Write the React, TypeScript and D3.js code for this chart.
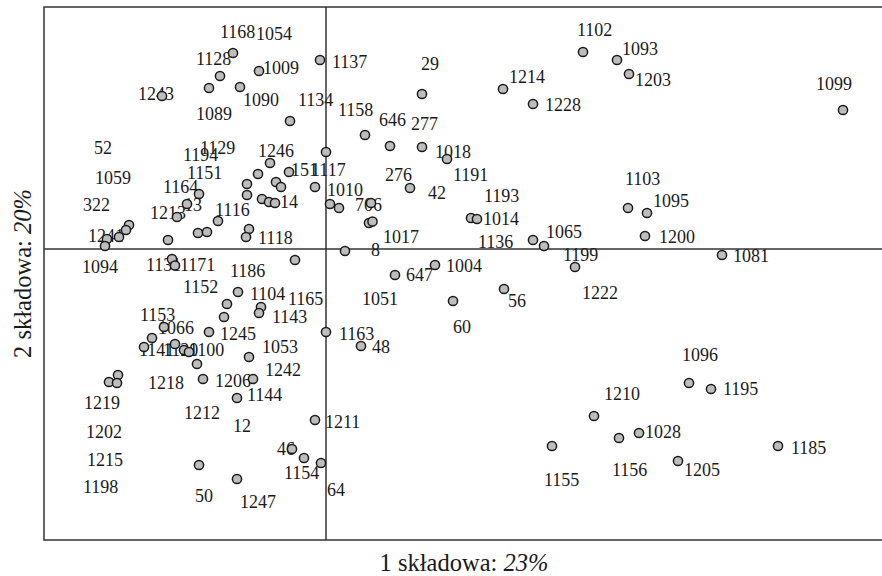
import React from "react";
import * as d3 from "d3";

// Point scores (component 1, component 2)
const pc1 = [
  -0.93, -1.06, -1.17, -0.86, -0.67, -1.64, -0.06, -0.36, 0.0, 0.39, 0.64, 0.96, 0.96, 1.21,
  -0.56, -0.68, -0.37, -0.79, -0.5, -0.45, -0.11, 0.84, 2.57, 2.91, 3.03, 1.77, 2.07, 5.17,
  3.02, 3.21, 3.19, 3.96, 1.45, 1.51, 2.07, 2.18, 2.49, 1.78, 1.27, 1.09, 0.69, 0.19, 0.45,
  0.43, 0.465, 0.04, 0.13, -0.64, -0.57, -0.51, -0.79, -0.77, -0.8, -1.27, -1.39, -1.49, -1.28,
  -1.19, -1.08, -1.97, -2.0, -2.07, -2.19, -2.21, -1.58, -1.54, -1.51, -0.31, -0.88, -0.99,
  -1.02, -0.65, -0.67, -1.17, -1.62, -1.74, -1.82, -1.51, -1.42, -1.37, -1.29, -0.77, 0.0,
  0.35, -1.23, -2.08, -2.17, -2.09, -0.89, -0.73, -0.11, -0.34, -0.22, -0.05, -1.27, -0.89,
  2.68, 2.93, 3.13, 2.26, 3.63, 3.85, 4.52, 3.52,
];
const pc2 = [
  1.96, 1.73, 1.61, 1.62, 1.78, 1.53, 1.89, 1.28, 0.97, 1.14, 1.03, 1.55, 1.02, 0.9,
  0.86, 0.75, 0.77, 0.65, 0.67, 0.62, 0.62, 0.61, 1.97, 1.89, 1.75, 1.6, 1.45, 1.39,
  0.41, 0.36, 0.13, -0.06, 0.31, 0.3, 0.09, 0.03, -0.18, -0.4, -0.52, -0.16, -0.26, -0.02, 0.46,
  0.26, 0.275, 0.45, 0.41, 0.5, 0.47, 0.46, 0.54, 0.2, 0.12, 0.55, 0.45, 0.32, 0.16,
  0.17, 0.28, 0.24, 0.19, 0.12, 0.1, 0.03, 0.09, -0.1, -0.165, -0.11, -0.43, -0.55,
  -0.68, -0.58, -0.64, -0.83, -0.78, -0.89, -0.98, -0.95, -1.01, -1.03, -1.15, -1.08, -0.83,
  -0.97, -1.3, -1.26, -1.33, -1.34, -1.49, -1.3, -1.71, -2.0, -2.09, -2.14, -2.16, -2.3,
  -1.67, -1.89, -1.84, -1.97, -1.34, -1.4, -1.97, -2.12,
];

// Labels (placed independently in the original figure)
const labelNames = [
  "1168", "1054", "1137", "1009", "1128", "1243", "1089", "1090", "1134", "1158", "646", "277",
  "29", "1018", "1191", "1214", "1228", "1102", "1093", "1203", "1099", "1103", "1095", "1200",
  "1081", "1065", "1136", "1193", "1014", "1199", "1222", "56", "60", "1004", "647", "1051",
  "1017", "8", "706", "1010", "42", "276", "151", "1117", "1246", "14", "1116", "1118", "1213",
  "13", "1164", "1151", "1194", "1129", "52", "1059", "322", "1241", "1094", "1131", "1171",
  "1186", "1152", "1104", "1165", "1143", "1153", "1066", "1245", "1141", "1120", "1100",
  "1053", "1163", "48", "1242", "1218", "1206", "1144", "1219", "1212", "12", "1202", "1211",
  "46", "1154", "64", "1247", "50", "1215", "1198", "1155", "1156", "1210", "1028", "1205",
  "1185", "1195", "1096",
];
const labelX = [
  -1.06, -0.7, 0.06, -0.63, -1.3, -1.88, -1.3, -0.83, -0.28, 0.12, 0.53, 0.85,
  0.95, 1.09, 1.27, 1.83, 2.19, 2.51, 2.96, 3.09, 4.9, 2.99, 3.27, 3.33,
  4.07, 2.2, 1.52, 1.58, 1.57, 2.37, 2.56, 1.82, 1.27, 1.2, 0.8, 0.36,
  0.57, 0.45, 0.29, 0.01, 1.02, 0.59, -0.35, -0.15, -0.68, -0.46, -1.11, -0.68, -1.76,
  -1.42, -1.63, -1.39, -1.43, -1.26, -2.32, -2.31, -2.43, -2.38, -2.44, -1.8, -1.46,
  -0.96, -1.43, -0.76, -0.38, -0.54, -1.86, -1.68, -1.06, -1.87, -1.63, -1.37,
  -0.64, 0.13, 0.46, -0.61, -1.78, -1.11, -0.79, -2.42, -1.42, -0.93, -2.4, -0.01,
  -0.49, -0.42, 0.01, -0.86, -1.31, -2.39, -2.43, 2.18, 2.86, 2.78, 3.19, 3.58,
  4.65, 3.97, 3.56,
];
const labelY = [
  2.11, 2.09, 1.81, 1.75, 1.84, 1.49, 1.29, 1.43, 1.43, 1.33, 1.23, 1.19,
  1.79, 0.91, 0.68, 1.66, 1.38, 2.13, 1.94, 1.63, 1.59, 0.64, 0.42, 0.06,
  -0.13, 0.11, 0.01, 0.47, 0.24, -0.12, -0.5, -0.58, -0.84, -0.23, -0.32, -0.56,
  0.06, -0.07, 0.38, 0.53, 0.5, 0.68, 0.73, 0.73, 0.92, 0.41, 0.33, 0.05, 0.3,
  0.38, 0.56, 0.7, 0.88, 0.95, 0.95, 0.65, 0.38, 0.07, -0.24, -0.22, -0.22,
  -0.28, -0.44, -0.51, -0.56, -0.74, -0.72, -0.85, -0.91, -1.07, -1.07, -1.07,
  -1.04, -0.91, -1.04, -1.27, -1.4, -1.38, -1.52, -1.6, -1.7, -1.83, -1.89, -1.79,
  -2.06, -2.3, -2.47, -2.59, -2.53, -2.17, -2.44, -2.37, -2.27, -1.51, -1.89, -2.27,
  -2.05, -1.46, -1.12,
];

const xTitle = ["1 składowa: ", "23%"];
const yTitle = ["2 składowa: ", "20%"];

const W = 882;
const H = 576;
const FONT = "'Liberation Serif', 'Times New Roman', serif";

export default function App() {
  const x = d3.scaleLinear().domain([-2.82, 5.58]).range([44, 884]);
  const y = d3.scaleLinear().domain([-2.91, 2.42]).range([540, 7]);
  const [x0, x1] = x.range();
  const [y0, y1] = y.range();

  return (
    <svg
      width={W}
      height={H}
      style={{ position: "absolute", left: 0, top: 0, background: "#fff" }}
      fontFamily={FONT}
    >
      <rect x={x0} y={y1} width={x1 - x0} height={y0 - y1} fill="none" stroke="#333" strokeWidth={1.5} />
      <line x1={x(0)} x2={x(0)} y1={y1} y2={y0} stroke="#333" strokeWidth={1.5} />
      <line x1={x0} x2={x1} y1={y(0)} y2={y(0)} stroke="#333" strokeWidth={1.5} />

      <g fontSize={18} fill="#1a1a1a">
        {labelNames.map((t, i) => (
          <text key={"l" + i} x={x(labelX[i])} y={y(labelY[i])}>
            {t}
          </text>
        ))}
      </g>

      <g>
        {pc1.map((v, i) => (
          <circle
            key={"p" + i}
            cx={x(v)}
            cy={y(pc2[i])}
            r={4.6}
            fill="#bdbdbd"
            stroke="#1a1a1a"
            strokeWidth={1.5}
          />
        ))}
      </g>

      <text x={(x0 + x1) / 2} y={571} textAnchor="middle" fontSize={24.5} fill="#1a1a1a">
        {xTitle[0]}
        <tspan fontStyle="italic">{xTitle[1]}</tspan>
      </text>
      <text
        transform={`translate(31, ${(y0 + y1) / 2}) rotate(-90)`}
        textAnchor="middle"
        fontSize={24.5}
        fill="#1a1a1a"
      >
        {yTitle[0]}
        <tspan fontStyle="italic">{yTitle[1]}</tspan>
      </text>
    </svg>
  );
}
